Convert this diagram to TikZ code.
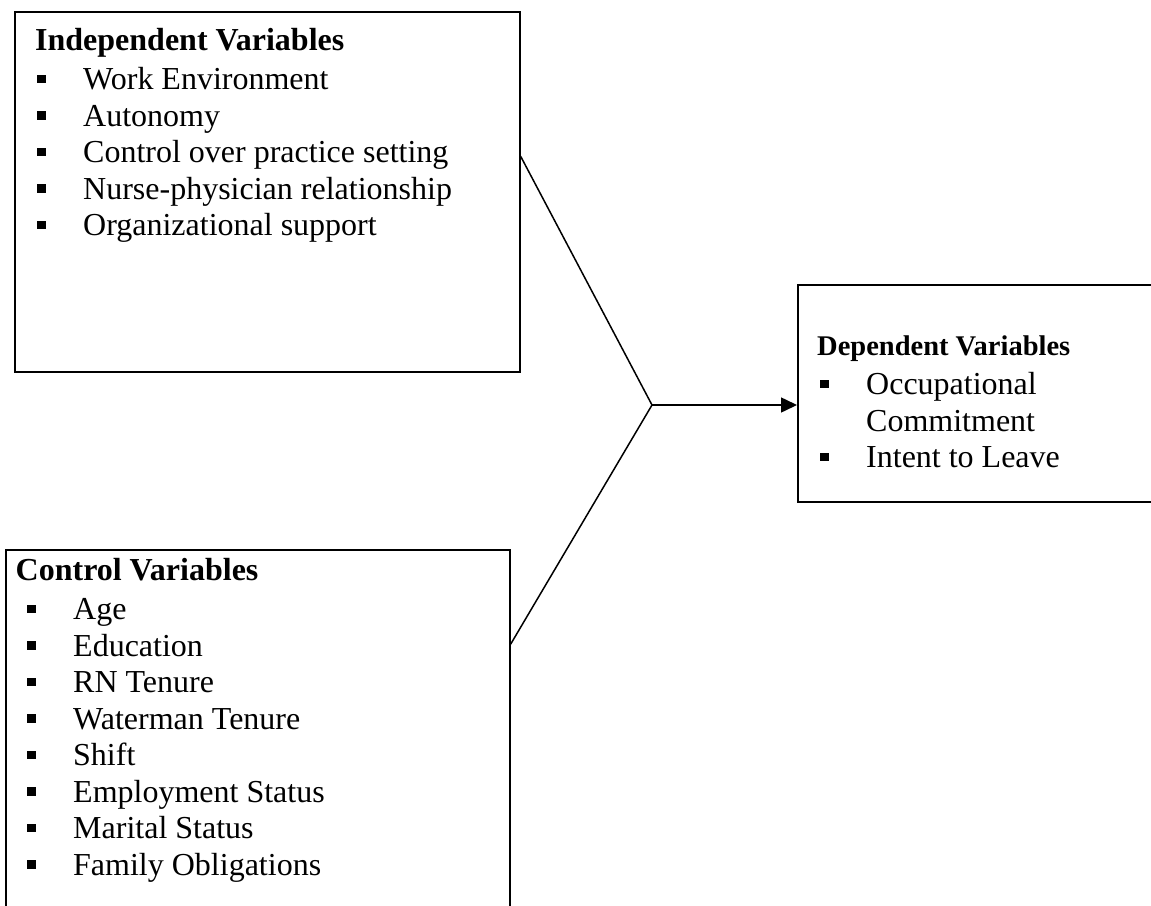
\documentclass[tikz,border=0pt]{standalone}
\usepackage{fontspec}
\setmainfont{Liberation Serif}
\usepackage{tikz}
\usetikzlibrary{arrows.meta}
\newcommand{\sqbul}{\rule[6.5pt]{8.5pt}{8.5pt}}
\newcommand{\itm}[2][2pt]{\hspace*{#1}\makebox[46pt][l]{\sqbul}#2}
\newcommand{\contd}[2][2pt]{\hspace*{#1}\hspace*{46pt}#2}

\begin{document}
\begin{tikzpicture}[x=1pt,y=-1pt,
    varbox/.style={draw,line width=1.6pt,inner sep=0pt,anchor=north west},
    varlist/.style={inner sep=0pt,anchor=north west,align=left,font=\fontsize{32}{36.5}\selectfont},
    link/.style={line width=1.5pt}]
\useasboundingbox (0,0) rectangle (1151,905);
\node[varbox,minimum width=505pt,minimum height=360pt](indep)at(14,11){};
\node[varlist](indeplist)at(35,24.45){\strut\textbf{Independent Variables}\\[3pt]
  \itm{Work Environment}\\
  \itm{Autonomy}\\
  \itm{Control over practice setting}\\
  \itm{Nurse-physician relationship}\\
  \itm{Organizational support}};
\node[varbox,minimum width=504pt,minimum height=363pt](ctrl)at(5,549){};
\node[varlist](ctrllist)at(15.5,554.45){\strut\textbf{Control Variables}\\[3pt]
  \itm[11.5pt]{Age}\\
  \itm[11.5pt]{Education}\\
  \itm[11.5pt]{RN Tenure}\\
  \itm[11.5pt]{Waterman Tenure}\\
  \itm[11.5pt]{Shift}\\
  \itm[11.5pt]{Employment Status}\\
  \itm[11.5pt]{Marital Status}\\
  \itm[11.5pt]{Family Obligations}};
\node[varbox,minimum width=357pt,minimum height=217pt](dep)at(797,284){};
\node[varlist](deplist)at(817,329.45){\strut{\fontsize{28.5}{36.5}\selectfont\bfseries Dependent Variables}\\[3pt]
  \itm[3pt]{Occupational}\\
  \contd[3pt]{Commitment}\\
  \itm[3pt]{Intent to Leave}};
\coordinate (join) at (652,405);
\draw[link] (indep.8.11) -- (join) -- (ctrl.19.15);
\draw[link,-{Triangle[length=16pt,width=15pt]}] (join) -- (join -| dep.west);
\end{tikzpicture}
\end{document}
